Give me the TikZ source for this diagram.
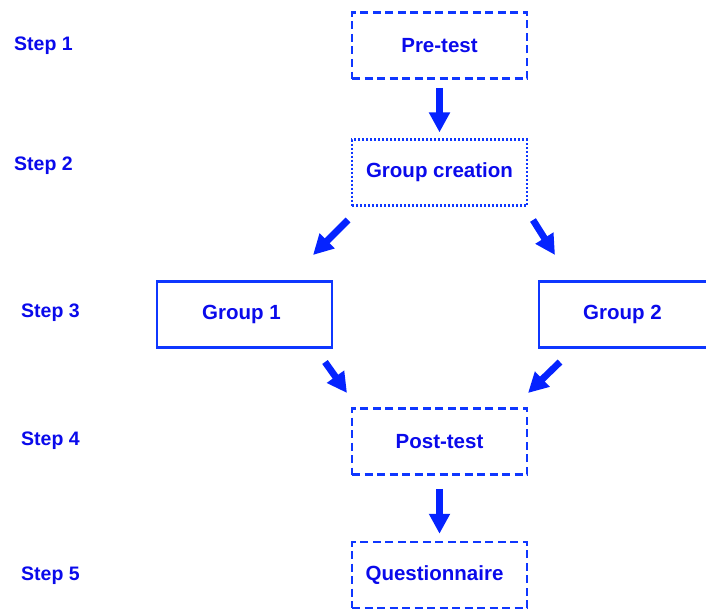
\documentclass[tikz,border=0pt]{standalone}
\usepackage{fontspec}
\setmainfont{Liberation Sans}
\usetikzlibrary{arrows.meta}
\definecolor{ink}{RGB}{10,10,235}
\definecolor{edge}{RGB}{15,55,255}
\definecolor{arrowfill}{RGB}{5,35,255}
\begin{document}
\begin{tikzpicture}[x=1pt,y=-1pt,
  step font/.style={font=\fontsize{19.5}{22}\selectfont\bfseries},
  box font/.style={font=\fontsize{20.5}{23}\selectfont\bfseries},
  box/.style={minimum width=175pt, minimum height=66pt, inner sep=0pt,
    line width=2.5pt, draw=edge, text=ink, box font},
  dashbox/.style={box, dash pattern=on 8pt off 4.5pt},
  dotbox/.style={box, line width=2.2pt, dash pattern=on 2pt off 2pt},
  solidbox/.style={box},
  steplabel/.style={anchor=west, text=ink, inner sep=0pt, step font},
  arr/.style={draw=arrowfill, line width=6.8pt, -{Triangle[length=20pt,width=20pt]}},
]
\useasboundingbox (0,0) rectangle (706,610);
\clip (0,0) rectangle (706,610);

% step labels
\node[steplabel] (s1) at (14,46)  {Step 1};
\node[steplabel] (s2) at (14,166) {Step 2};
\node[steplabel] (s3) at (21,313) {Step 3};
\node[steplabel] (s4) at (21,441) {Step 4};
\node[steplabel] (s5) at (21,576) {Step 5};

% boxes
\node[dashbox]  (pre)  at (439.5,45.5)  {\raisebox{-2.5pt}{Pre-test}};
\node[dotbox]   (gc)   at (439.5,172.5) {Group creation};
\node[solidbox] (g1)   at (244.5,314.5) {\hspace*{-6pt}Group 1};
\node[solidbox] (g2)   at (626.5,314.5) {\hspace*{-8pt}Group 2};
\node[dashbox]  (post) at (439.5,441.5) {Post-test};
\node[dashbox]  (quest) at (439.5,575) {\hspace*{-10pt}\raisebox{-1.5pt}{Questionnaire}};

% arrow end points
\coordinate (gcL) at (348,220);
\coordinate (g1T) at (313,255);
\coordinate (gcR) at (533,220);
\coordinate (g2T) at (555,255);
\coordinate (g1B) at (325,362);
\coordinate (postL) at (347,393);
\coordinate (g2B) at (560,362);
\coordinate (postR) at (528,393);

% connectors
\draw[arr, shorten <=8pt, shorten >=6pt] (pre) -- (gc);
\draw[arr] (gcL) -- (g1T);
\draw[arr] (gcR) -- (g2T);
\draw[arr] (g1B) -- (postL);
\draw[arr] (g2B) -- (postR);
\draw[arr, shorten <=13pt, shorten >=7pt] (post) -- (quest);
\end{tikzpicture}
\end{document}
